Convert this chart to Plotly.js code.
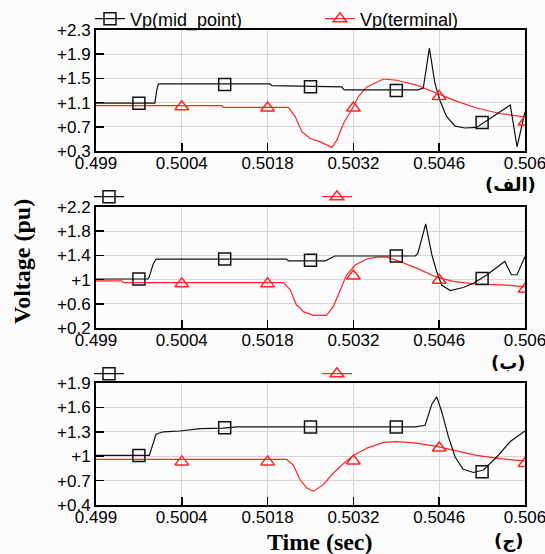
<!DOCTYPE html>
<html><head><meta charset="utf-8">
<script src="https://cdn.plot.ly/plotly-3.0.1.min.js"></script>
<style>html,body{margin:0;padding:0;background:#fcfcfc}</style>
</head><body><div id="chart" style="width:545px;height:554px"></div>
<script>
// ---- axis ticks ----
const xTickVals = [0.499, 0.5004, 0.5018, 0.5032, 0.5046, 0.506];
const xTickText = ['0.499', '0.5004', '0.5018', '0.5032', '0.5046', '0.506'];
const y1TickVals = [0.3, 0.7, 1.1, 1.5, 1.9, 2.3];
const y1TickText = ['+0.3', '+0.7', '+1.1', '+1.5', '+1.9', '+2.3'];
const y2TickVals = [0.2, 0.6, 1, 1.4, 1.8, 2.2];
const y2TickText = ['+0.2', '+0.6', '+1', '+1.4', '+1.8', '+2.2'];
const y3TickVals = [0.4, 0.7, 1, 1.3, 1.6, 1.9];
const y3TickText = ['+0.4', '+0.7', '+1', '+1.3', '+1.6', '+1.9'];

const seriesNames = ['Vp(mid_point)', 'Vp(terminal)'];
const panelLabels = ['(الف)', '(ب)', '(ج)'];

// ---- panel (a) ----
const aMidT = [0.49900,0.49996,0.49999,0.50002,0.50184,0.50187,0.50301,0.50305,0.50425,0.50434,0.50444,0.50453,0.50461,0.50472,0.50486,0.50502,0.50521,0.50576,0.50587,0.50600];
const aMidV = [1.09,1.09,1.30,1.41,1.41,1.38,1.36,1.31,1.31,1.34,2.00,1.42,1.14,0.87,0.71,0.68,0.69,1.06,0.37,0.95];
const aTerT = [0.49900,0.50105,0.50108,0.50214,0.50225,0.50236,0.50249,0.50266,0.50285,0.50293,0.50304,0.50320,0.50328,0.50342,0.50369,0.50391,0.50423,0.50461,0.50489,0.50521,0.50559,0.50600];
const aTerV = [1.05,1.05,1.02,1.02,0.87,0.62,0.51,0.45,0.36,0.48,0.76,1.03,1.20,1.36,1.49,1.47,1.39,1.23,1.12,1.01,0.92,0.86];

// ---- panel (b) ----
const bMidT = [0.49900,0.49985,0.49987,0.49993,0.49998,0.50211,0.50214,0.50274,0.50290,0.50421,0.50425,0.50438,0.50448,0.50456,0.50464,0.50478,0.50499,0.50516,0.50538,0.50567,0.50578,0.50587,0.50600];
const bMidV = [1.01,1.01,1.05,1.25,1.34,1.34,1.31,1.31,1.39,1.39,1.43,1.92,1.41,1.13,0.91,0.82,0.87,0.94,1.08,1.30,1.08,1.08,1.38];
const bTerT = [0.49900,0.49942,0.49945,0.50206,0.50217,0.50227,0.50233,0.50238,0.50255,0.50276,0.50287,0.50298,0.50309,0.50323,0.50342,0.50358,0.50374,0.50396,0.50423,0.50456,0.50483,0.50516,0.50570,0.50600];
const bTerV = [0.98,0.98,0.95,0.95,0.83,0.58,0.53,0.47,0.41,0.41,0.55,0.83,1.08,1.24,1.34,1.37,1.37,1.30,1.19,1.04,0.97,0.93,0.91,0.88];

// ---- panel (c) ----
const cMidT = [0.49900,0.49987,0.49998,0.50010,0.50037,0.50070,0.50108,0.50130,0.50421,0.50437,0.50448,0.50456,0.50464,0.50475,0.50486,0.50499,0.50516,0.50532,0.50554,0.50576,0.50600];
const cMidV = [1.01,1.01,1.27,1.30,1.31,1.34,1.345,1.36,1.36,1.38,1.64,1.73,1.55,1.24,0.99,0.84,0.80,0.83,0.99,1.18,1.31];
const cTerT = [0.49900,0.50211,0.50222,0.50233,0.50244,0.50255,0.50271,0.50287,0.50304,0.50320,0.50342,0.50369,0.50391,0.50423,0.50456,0.50489,0.50521,0.50559,0.50600];
const cTerV = [0.96,0.96,0.89,0.71,0.61,0.57,0.65,0.79,0.91,1.01,1.10,1.17,1.18,1.16,1.12,1.06,1.01,0.97,0.94];

// ---- marker positions ----
const squareT = [0.4997, 0.5011, 0.5025, 0.5039, 0.5053];
const triT = [0.5004, 0.5018, 0.5032, 0.5046, 0.506];
const aSqV = [1.09, 1.40, 1.36, 1.30, 0.77];
const bSqV = [1.01, 1.34, 1.32, 1.39, 1.02];
const cSqV = [1.01, 1.35, 1.36, 1.36, 0.81];
const aTriV = [1.03, 1.01, 1.01, 1.20, 0.78];
const bTriV = [0.93, 0.93, 1.06, 0.99, 0.84];
const cTriV = [0.93, 0.93, 0.94, 1.10, 0.91];

const BLACK = '#111111';
const RED = '#ff2626';
const sqMarker = {symbol: 'square-open', size: 12, color: BLACK, line: {width: 1.5, color: BLACK}};
const triMarker = {symbol: 'triangle-up-open', size: 12, color: RED, line: {width: 1.5, color: RED}};

const panels = [
  {mt: aMidT, mv: aMidV, tt: aTerT, tv: aTerV, sq: aSqV, tri: aTriV},
  {mt: bMidT, mv: bMidV, tt: bTerT, tv: bTerV, sq: bSqV, tri: bTriV},
  {mt: cMidT, mv: cMidV, tt: cTerT, tv: cTerV, sq: cSqV, tri: cTriV}
];

const traces = [];
panels.forEach((p, i) => {
  const xa = i === 0 ? 'x' : 'x' + (i + 1);
  const ya = i === 0 ? 'y' : 'y' + (i + 1);
  traces.push({x: p.tt, y: p.tv, xaxis: xa, yaxis: ya, mode: 'lines', line: {color: RED, width: 1.2}, showlegend: false, hoverinfo: 'skip'});
  traces.push({x: p.mt, y: p.mv, xaxis: xa, yaxis: ya, mode: 'lines', line: {color: BLACK, width: 1.2}, showlegend: false, hoverinfo: 'skip'});
  traces.push({x: squareT, y: p.sq, xaxis: xa, yaxis: ya, mode: 'markers', marker: sqMarker, showlegend: false});
  traces.push({x: triT, y: p.tri, xaxis: xa, yaxis: ya, mode: 'markers', marker: triMarker, showlegend: false});
  // legend-only entries
  traces.push({x: [null], y: [null], xaxis: xa, yaxis: ya, mode: 'lines+markers', line: {color: BLACK, width: 1.2}, marker: sqMarker,
    name: i === 0 ? seriesNames[0] : '', legend: 'legend' + (i === 0 ? '' : (2 * i + 1))});
  traces.push({x: [null], y: [null], xaxis: xa, yaxis: ya, mode: 'lines+markers', line: {color: RED, width: 1.2}, marker: triMarker,
    name: i === 0 ? seriesNames[1] : '', legend: 'legend' + (2 * i + 2)});
});

const W = 545, H = 554;
const px = v => v / W;
const py = v => 1 - v / H;

const tickFont = {family: 'Arial, Liberation Sans, sans-serif', size: 17, color: '#000'};
function xAxis(anchor) {
  return {anchor: anchor, domain: [px(96), px(525)], range: [0.499, 0.506], tickvals: xTickVals, ticktext: xTickText,
    showgrid: true, gridcolor: '#ddd3d3', gridwidth: 1, zeroline: false, showline: true, linecolor: '#000', linewidth: 2, mirror: true,
    ticks: 'inside', ticklen: 8, tickwidth: 1.5, tickcolor: '#000', tickfont: tickFont, ticklabelstandoff: -4,
    ticklabeloverflow: 'allow', fixedrange: true};
}
function yAxis(anchor, dom, rng, tv, tt) {
  return {anchor: anchor, domain: dom, range: rng, tickvals: tv, ticktext: tt,
    showgrid: true, gridcolor: '#ddd3d3', gridwidth: 1, zeroline: false, showline: true, linecolor: '#000', linewidth: 2, mirror: true,
    ticks: 'inside', ticklen: 8, tickwidth: 1.5, tickcolor: '#000', tickfont: tickFont, ticklabeloverflow: 'allow', fixedrange: true};
}

function legendAt(xp, yp) {
  return {x: px(xp), y: py(yp), xanchor: 'left', yanchor: 'middle', orientation: 'h', bgcolor: 'rgba(0,0,0,0)', borderwidth: 0,
    font: {family: 'Arial, Liberation Sans, sans-serif', size: 18, color: '#000'}};
}

const arabicFont = {family: 'DejaVu Sans, Noto Sans, sans-serif', size: 18, color: '#000'};
const titleFont = {family: 'Liberation Serif, Times New Roman, serif', size: 24, color: '#000'};
function note(text, x, y, font, angle) {
  return {text: text, x: px(x), y: py(y), xref: 'paper', yref: 'paper', xanchor: 'center', yanchor: 'middle',
    showarrow: false, font: font, textangle: angle || 0};
}
const layout = {
  width: W, height: H,
  margin: {l: 0, r: 0, t: 0, b: 0},
  paper_bgcolor: '#fcfcfc', plot_bgcolor: '#fcfcfc',
  xaxis: xAxis('y'), xaxis2: xAxis('y2'), xaxis3: xAxis('y3'),
  yaxis: yAxis('x', [py(151), py(30)], [0.3, 2.3], y1TickVals, y1TickText),
  yaxis2: yAxis('x2', [py(328), py(207)], [0.2, 2.2], y2TickVals, y2TickText),
  yaxis3: yAxis('x3', [py(505), py(383)], [0.4, 1.9], y3TickVals, y3TickText),
  legend: legendAt(90, 19), legend2: legendAt(320, 19),
  legend3: legendAt(89, 197), legend4: legendAt(317, 197),
  legend5: legendAt(89, 374), legend6: legendAt(317, 374),
  annotations: [
    note('<b>Voltage (pu)</b>', 22, 262, titleFont, -90),
    note('<b>Time (sec)</b>', 320, 542, titleFont),
    note('<b>' + panelLabels[0] + '</b>', 510, 184, arabicFont),
    note('<b>' + panelLabels[1] + '</b>', 508, 362, arabicFont),
    note('<b>' + panelLabels[2] + '</b>', 508, 541, arabicFont)
  ]
};

Plotly.newPlot('chart', traces, layout, {displayModeBar: false, staticPlot: true});
</script></body></html>
